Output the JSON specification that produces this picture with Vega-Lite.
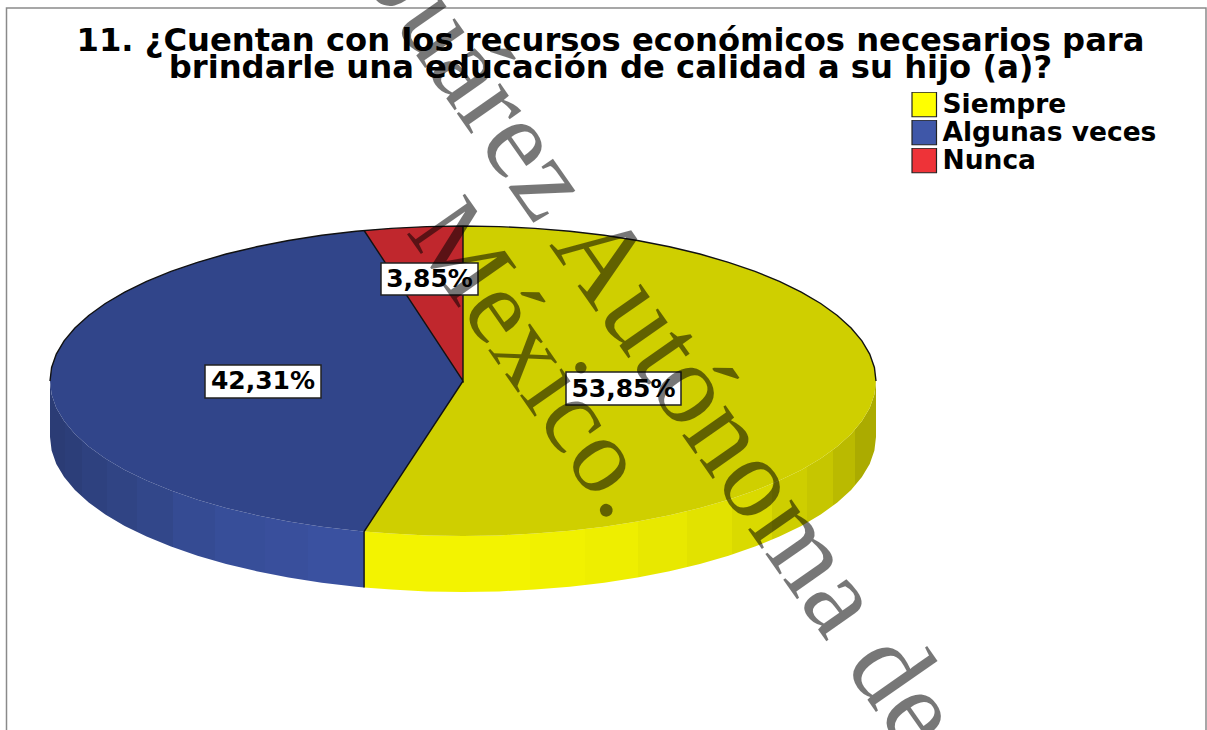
{
"$schema":"https://vega.github.io/schema/vega-lite/v6.json",
"width":1207,"height":730,"padding":0,"autosize":"none","background":"white",
"title":{"text":["11. ¿Cuentan con los recursos económicos necesarios para","brindarle una educación de calidad a su hijo (a)?"],"font":"DejaVu Sans","fontWeight":"bold","fontSize":32.2,"lineHeight":27,"anchor":"middle","dx":7,"offset":-85,"color":"black"},
"config":{"view":{"stroke":null}},
"datasets":{
"slices":[{"slice":"Siempre","value":53.85},{"slice":"Algunas veces","value":42.31},{"slice":"Nunca","value":3.85}],
"frame":[{"i":0,"x":6.5,"y":730},{"i":1,"x":6.5,"y":8},{"i":2,"x":1206,"y":8},{"i":3,"x":1206,"y":730}],
"side":[
{"slice":"Siempre","x":364.1,"y":531.5,"y2":587.5},{"slice":"Siempre","x":391.3,"y":533.6,"y2":589.6},{"slice":"Siempre","x":427,"y":535.4,"y2":591.4},{"slice":"Siempre","x":463,"y":536,"y2":592},{"slice":"Siempre","x":499,"y":535.4,"y2":591.4},{"slice":"Siempre","x":534.7,"y":533.6,"y2":589.6},{"slice":"Siempre","x":569.9,"y":530.7,"y2":586.7},{"slice":"Siempre","x":604.2,"y":526.7,"y2":582.7},{"slice":"Siempre","x":637.5,"y":521.5,"y2":577.5},{"slice":"Siempre","x":669.5,"y":515.2,"y2":571.2},{"slice":"Siempre","x":699.9,"y":508,"y2":564},{"slice":"Siempre","x":728.5,"y":499.7,"y2":555.7},{"slice":"Siempre","x":755,"y":490.6,"y2":546.6},{"slice":"Siempre","x":779.4,"y":480.6,"y2":536.6},{"slice":"Siempre","x":801.3,"y":469.9,"y2":525.9},{"slice":"Siempre","x":820.7,"y":458.5,"y2":514.5},{"slice":"Siempre","x":837.3,"y":446.5,"y2":502.5},{"slice":"Siempre","x":851.1,"y":434,"y2":490},{"slice":"Siempre","x":861.9,"y":421.1,"y2":477.1},{"slice":"Siempre","x":869.7,"y":407.9,"y2":463.9},{"slice":"Siempre","x":874.4,"y":394.5,"y2":450.5},{"slice":"Siempre","x":876,"y":381,"y2":437},
{"slice":"Algunas veces","x":50,"y":381,"y2":437},{"slice":"Algunas veces","x":51.6,"y":394.5,"y2":450.5},{"slice":"Algunas veces","x":56.3,"y":407.9,"y2":463.9},{"slice":"Algunas veces","x":64.1,"y":421.1,"y2":477.1},{"slice":"Algunas veces","x":74.9,"y":434,"y2":490},{"slice":"Algunas veces","x":88.7,"y":446.5,"y2":502.5},{"slice":"Algunas veces","x":105.3,"y":458.5,"y2":514.5},{"slice":"Algunas veces","x":124.7,"y":469.9,"y2":525.9},{"slice":"Algunas veces","x":146.6,"y":480.6,"y2":536.6},{"slice":"Algunas veces","x":171,"y":490.6,"y2":546.6},{"slice":"Algunas veces","x":197.5,"y":499.7,"y2":555.7},{"slice":"Algunas veces","x":226.1,"y":508,"y2":564},{"slice":"Algunas veces","x":256.5,"y":515.2,"y2":571.2},{"slice":"Algunas veces","x":288.5,"y":521.5,"y2":577.5},{"slice":"Algunas veces","x":321.8,"y":526.7,"y2":582.7},{"slice":"Algunas veces","x":356.1,"y":530.7,"y2":586.7},{"slice":"Algunas veces","x":364.1,"y":531.5,"y2":587.5}
],
"top":[
{"slice":"Siempre","i":0,"x":463,"y":381},{"slice":"Siempre","i":1,"x":463,"y":226},{"slice":"Siempre","i":2,"x":499,"y":226.6},{"slice":"Siempre","i":3,"x":534.7,"y":228.4},{"slice":"Siempre","i":4,"x":569.9,"y":231.3},{"slice":"Siempre","i":5,"x":604.2,"y":235.3},{"slice":"Siempre","i":6,"x":637.5,"y":240.5},{"slice":"Siempre","i":7,"x":669.5,"y":246.8},{"slice":"Siempre","i":8,"x":699.9,"y":254},{"slice":"Siempre","i":9,"x":728.5,"y":262.3},{"slice":"Siempre","i":10,"x":755,"y":271.4},{"slice":"Siempre","i":11,"x":779.4,"y":281.4},{"slice":"Siempre","i":12,"x":801.3,"y":292.1},{"slice":"Siempre","i":13,"x":820.7,"y":303.5},{"slice":"Siempre","i":14,"x":837.3,"y":315.5},{"slice":"Siempre","i":15,"x":851.1,"y":328},{"slice":"Siempre","i":16,"x":861.9,"y":340.9},{"slice":"Siempre","i":17,"x":869.7,"y":354.1},{"slice":"Siempre","i":18,"x":874.4,"y":367.5},{"slice":"Siempre","i":19,"x":876,"y":381},{"slice":"Siempre","i":20,"x":874.4,"y":394.5},{"slice":"Siempre","i":21,"x":869.7,"y":407.9},{"slice":"Siempre","i":22,"x":861.9,"y":421.1},{"slice":"Siempre","i":23,"x":851.1,"y":434},{"slice":"Siempre","i":24,"x":837.3,"y":446.5},{"slice":"Siempre","i":25,"x":820.7,"y":458.5},{"slice":"Siempre","i":26,"x":801.3,"y":469.9},{"slice":"Siempre","i":27,"x":779.4,"y":480.6},{"slice":"Siempre","i":28,"x":755,"y":490.6},{"slice":"Siempre","i":29,"x":728.5,"y":499.7},{"slice":"Siempre","i":30,"x":699.9,"y":508},{"slice":"Siempre","i":31,"x":669.5,"y":515.2},{"slice":"Siempre","i":32,"x":637.5,"y":521.5},{"slice":"Siempre","i":33,"x":604.2,"y":526.7},{"slice":"Siempre","i":34,"x":569.9,"y":530.7},{"slice":"Siempre","i":35,"x":534.7,"y":533.6},{"slice":"Siempre","i":36,"x":499,"y":535.4},{"slice":"Siempre","i":37,"x":463,"y":536},{"slice":"Siempre","i":38,"x":427,"y":535.4},{"slice":"Siempre","i":39,"x":391.3,"y":533.6},{"slice":"Siempre","i":40,"x":364.1,"y":531.5},
{"slice":"Algunas veces","i":0,"x":463,"y":381},{"slice":"Algunas veces","i":1,"x":364.1,"y":531.5},{"slice":"Algunas veces","i":2,"x":356.1,"y":530.7},{"slice":"Algunas veces","i":3,"x":321.8,"y":526.7},{"slice":"Algunas veces","i":4,"x":288.5,"y":521.5},{"slice":"Algunas veces","i":5,"x":256.5,"y":515.2},{"slice":"Algunas veces","i":6,"x":226.1,"y":508},{"slice":"Algunas veces","i":7,"x":197.5,"y":499.7},{"slice":"Algunas veces","i":8,"x":171,"y":490.6},{"slice":"Algunas veces","i":9,"x":146.6,"y":480.6},{"slice":"Algunas veces","i":10,"x":124.7,"y":469.9},{"slice":"Algunas veces","i":11,"x":105.3,"y":458.5},{"slice":"Algunas veces","i":12,"x":88.7,"y":446.5},{"slice":"Algunas veces","i":13,"x":74.9,"y":434},{"slice":"Algunas veces","i":14,"x":64.1,"y":421.1},{"slice":"Algunas veces","i":15,"x":56.3,"y":407.9},{"slice":"Algunas veces","i":16,"x":51.6,"y":394.5},{"slice":"Algunas veces","i":17,"x":50,"y":381},{"slice":"Algunas veces","i":18,"x":51.6,"y":367.5},{"slice":"Algunas veces","i":19,"x":56.3,"y":354.1},{"slice":"Algunas veces","i":20,"x":64.1,"y":340.9},{"slice":"Algunas veces","i":21,"x":74.9,"y":328},{"slice":"Algunas veces","i":22,"x":88.7,"y":315.5},{"slice":"Algunas veces","i":23,"x":105.3,"y":303.5},{"slice":"Algunas veces","i":24,"x":124.7,"y":292.1},{"slice":"Algunas veces","i":25,"x":146.6,"y":281.4},{"slice":"Algunas veces","i":26,"x":171,"y":271.4},{"slice":"Algunas veces","i":27,"x":197.5,"y":262.3},{"slice":"Algunas veces","i":28,"x":226.1,"y":254},{"slice":"Algunas veces","i":29,"x":256.5,"y":246.8},{"slice":"Algunas veces","i":30,"x":288.5,"y":240.5},{"slice":"Algunas veces","i":31,"x":321.8,"y":235.3},{"slice":"Algunas veces","i":32,"x":356.1,"y":231.3},{"slice":"Algunas veces","i":33,"x":364.1,"y":230.5},
{"slice":"Nunca","i":0,"x":463,"y":381},{"slice":"Nunca","i":1,"x":364.1,"y":230.5},{"slice":"Nunca","i":2,"x":391.3,"y":228.4},{"slice":"Nunca","i":3,"x":427,"y":226.6},{"slice":"Nunca","i":4,"x":463,"y":226}
],
"edges":[
{"e":"arc","i":0,"x":50,"y":381},{"e":"arc","i":1,"x":51.6,"y":367.5},{"e":"arc","i":2,"x":56.3,"y":354.1},{"e":"arc","i":3,"x":64.1,"y":340.9},{"e":"arc","i":4,"x":74.9,"y":328},{"e":"arc","i":5,"x":88.7,"y":315.5},{"e":"arc","i":6,"x":105.3,"y":303.5},{"e":"arc","i":7,"x":124.7,"y":292.1},{"e":"arc","i":8,"x":146.6,"y":281.4},{"e":"arc","i":9,"x":171,"y":271.4},{"e":"arc","i":10,"x":197.5,"y":262.3},{"e":"arc","i":11,"x":226.1,"y":254},{"e":"arc","i":12,"x":256.5,"y":246.8},{"e":"arc","i":13,"x":288.5,"y":240.5},{"e":"arc","i":14,"x":321.8,"y":235.3},{"e":"arc","i":15,"x":356.1,"y":231.3},{"e":"arc","i":16,"x":391.3,"y":228.4},{"e":"arc","i":17,"x":427,"y":226.6},{"e":"arc","i":18,"x":463,"y":226},{"e":"arc","i":19,"x":499,"y":226.6},{"e":"arc","i":20,"x":534.7,"y":228.4},{"e":"arc","i":21,"x":569.9,"y":231.3},{"e":"arc","i":22,"x":604.2,"y":235.3},{"e":"arc","i":23,"x":637.5,"y":240.5},{"e":"arc","i":24,"x":669.5,"y":246.8},{"e":"arc","i":25,"x":699.9,"y":254},{"e":"arc","i":26,"x":728.5,"y":262.3},{"e":"arc","i":27,"x":755,"y":271.4},{"e":"arc","i":28,"x":779.4,"y":281.4},{"e":"arc","i":29,"x":801.3,"y":292.1},{"e":"arc","i":30,"x":820.7,"y":303.5},{"e":"arc","i":31,"x":837.3,"y":315.5},{"e":"arc","i":32,"x":851.1,"y":328},{"e":"arc","i":33,"x":861.9,"y":340.9},{"e":"arc","i":34,"x":869.7,"y":354.1},{"e":"arc","i":35,"x":874.4,"y":367.5},{"e":"arc","i":36,"x":876,"y":381},
{"e":"r1","i":0,"x":364.1,"y":230.5},{"e":"r1","i":1,"x":463,"y":381},{"e":"r1","i":2,"x":463,"y":226},
{"e":"r2","i":0,"x":463,"y":381},{"e":"r2","i":1,"x":364.1,"y":531.5},{"e":"r2","i":2,"x":364.1,"y":587.5}
],
"labels":[
{"t":"53,85%","x0":566,"x1":681,"y0":372,"y1":405,"cx":623.5,"cy":389},
{"t":"42,31%","x0":205,"x1":321,"y0":365,"y1":398,"cx":263,"cy":381},
{"t":"3,85%","x0":381,"x1":478,"y0":263,"y1":295,"cx":429.5,"cy":279}
],
"wm":[
{"line":1,"t":"Juárez Autónoma de","x":906,"y":755},
{"line":2,"t":"México.","x":610,"y":524}
]
},
"layer":[
{"data":{"name":"frame"},"mark":{"type":"line","stroke":"#8a8a8a","strokeWidth":1.5},"encoding":{"x":{"field":"x","type":"quantitative","scale":{"domain":[0,1207],"nice":false,"zero":false},"axis":null},"y":{"field":"y","type":"quantitative","scale":{"domain":[0,730],"reverse":true,"nice":false,"zero":false},"axis":null},"order":{"field":"i"}}},
{"data":{"name":"side"},"transform":[{"filter":"datum.slice=='Siempre'"}],"mark":{"type":"area","fill":{"gradient":"linear","x1":0,"y1":0,"x2":1,"y2":0,"stops":[{"offset":0,"color":"#F3F300"},{"offset":0.324,"color":"#F3F300"},{"offset":0.324,"color":"#F1F100"},{"offset":0.432,"color":"#F1F100"},{"offset":0.432,"color":"#EEEE00"},{"offset":0.535,"color":"#EEEE00"},{"offset":0.535,"color":"#E8E800"},{"offset":0.631,"color":"#E8E800"},{"offset":0.631,"color":"#E2E200"},{"offset":0.719,"color":"#E2E200"},{"offset":0.719,"color":"#DADA00"},{"offset":0.797,"color":"#DADA00"},{"offset":0.797,"color":"#CECE00"},{"offset":0.865,"color":"#CECE00"},{"offset":0.865,"color":"#C6C600"},{"offset":0.916,"color":"#C6C600"},{"offset":0.916,"color":"#BABA00"},{"offset":0.959,"color":"#BABA00"},{"offset":0.959,"color":"#ABAB00"},{"offset":1,"color":"#ABAB00"}]}},"encoding":{"x":{"field":"x","type":"quantitative"},"y":{"field":"y","type":"quantitative"},"y2":{"field":"y2"}}},
{"data":{"name":"side"},"transform":[{"filter":"datum.slice=='Algunas veces'"}],"mark":{"type":"area","fill":{"gradient":"linear","x1":0,"y1":0,"x2":1,"y2":0,"stops":[{"offset":0,"color":"#2B3C75"},{"offset":0.048,"color":"#2B3C75"},{"offset":0.048,"color":"#2C3E79"},{"offset":0.102,"color":"#2C3E79"},{"offset":0.102,"color":"#2E417F"},{"offset":0.182,"color":"#2E417F"},{"offset":0.182,"color":"#304484"},{"offset":0.277,"color":"#304484"},{"offset":0.277,"color":"#32478A"},{"offset":0.392,"color":"#32478A"},{"offset":0.392,"color":"#354B93"},{"offset":0.525,"color":"#354B93"},{"offset":0.525,"color":"#374E99"},{"offset":0.685,"color":"#374E99"},{"offset":0.685,"color":"#394F9C"},{"offset":0.822,"color":"#394F9C"},{"offset":0.822,"color":"#3A51A0"},{"offset":1,"color":"#3A51A0"}]}},"encoding":{"x":{"field":"x","type":"quantitative"},"y":{"field":"y","type":"quantitative"},"y2":{"field":"y2"}}},
{"data":{"name":"top"},"transform":[{"filter":"datum.slice=='Siempre'"}],"mark":{"type":"line","strokeWidth":0,"fill":"#CFCF00"},"encoding":{"x":{"field":"x","type":"quantitative"},"y":{"field":"y","type":"quantitative"},"order":{"field":"i"}}},
{"data":{"name":"top"},"transform":[{"filter":"datum.slice=='Algunas veces'"}],"mark":{"type":"line","strokeWidth":0,"fill":"#31458A"},"encoding":{"x":{"field":"x","type":"quantitative"},"y":{"field":"y","type":"quantitative"},"order":{"field":"i"}}},
{"data":{"name":"top"},"transform":[{"filter":"datum.slice=='Nunca'"}],"mark":{"type":"line","strokeWidth":0,"fill":"#C0272D"},"encoding":{"x":{"field":"x","type":"quantitative"},"y":{"field":"y","type":"quantitative"},"order":{"field":"i"}}},
{"data":{"name":"edges"},"mark":{"type":"line","stroke":"#111111","strokeWidth":1.4},"encoding":{"x":{"field":"x","type":"quantitative"},"y":{"field":"y","type":"quantitative"},"order":{"field":"i"},"detail":{"field":"e"}}},
{"data":{"name":"slices"},"mark":{"type":"point","filled":true,"size":1,"opacity":0},"encoding":{"color":{"field":"slice","type":"nominal","scale":{"domain":["Siempre","Algunas veces","Nunca"],"range":["#FFFF00","#3F57A8","#EE3338"]},"legend":{"title":null,"orient":"none","legendX":911,"legendY":92,"symbolType":"square","symbolSize":600,"symbolStrokeColor":"#222222","symbolStrokeWidth":1.2,"symbolOpacity":1,"labelFont":"DejaVu Sans","labelFontWeight":"bold","labelFontSize":26.5,"labelColor":"black","labelOffset":5,"labelLimit":320,"clipHeight":25,"rowPadding":1,"padding":0}}}},
{"data":{"name":"labels"},"mark":{"type":"rect","fill":"white","stroke":"#222222","strokeWidth":1.5},"encoding":{"x":{"field":"x0","type":"quantitative"},"x2":{"field":"x1"},"y":{"field":"y0","type":"quantitative"},"y2":{"field":"y1"}}},
{"data":{"name":"labels"},"mark":{"type":"text","font":"DejaVu Sans","fontWeight":"bold","fontSize":25,"color":"black","align":"center","baseline":"middle"},"encoding":{"x":{"field":"cx","type":"quantitative"},"y":{"field":"cy","type":"quantitative"},"text":{"field":"t"}}},
{"data":{"name":"wm"},"transform":[{"filter":"datum.line==1"}],"mark":{"type":"text","clip":true,"font":"Liberation Serif","fontSize":115,"color":"black","opacity":0.53,"angle":55,"align":"right","baseline":"alphabetic"},"encoding":{"x":{"field":"x","type":"quantitative"},"y":{"field":"y","type":"quantitative"},"text":{"field":"t"}}},
{"data":{"name":"wm"},"transform":[{"filter":"datum.line==2"}],"mark":{"type":"text","clip":true,"font":"Liberation Serif","fontSize":108,"color":"black","opacity":0.53,"angle":55,"align":"right","baseline":"alphabetic"},"encoding":{"x":{"field":"x","type":"quantitative"},"y":{"field":"y","type":"quantitative"},"text":{"field":"t"}}}
]
}
